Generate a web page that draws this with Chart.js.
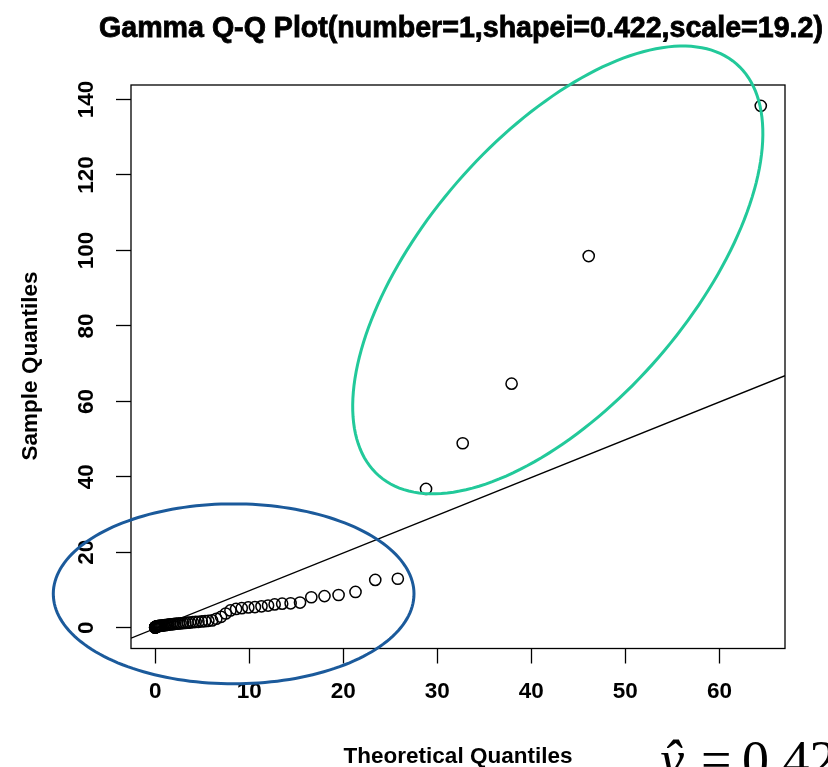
<!DOCTYPE html>
<html>
<head>
<meta charset="utf-8">
<title>Gamma Q-Q Plot</title>
<script src="https://cdn.jsdelivr.net/npm/chart.js@4.4.1/dist/chart.umd.min.js"></script>
<style>
  html, body { margin: 0; padding: 0; background: #fff; }
  #wrap { width: 828px; height: 767px; }
</style>
</head>
<body>
<div id="wrap"><canvas id="qqChart" width="828" height="767"></canvas></div>
<script>
// theoretical gamma quantiles vs sorted sample, smallest first
const theoretical = [
  0.0, 0.00002, 0.0001, 0.0004, 0.001, 0.003, 0.006, 0.012, 0.022, 0.037,
  0.058, 0.085, 0.12, 0.16, 0.21, 0.27, 0.34, 0.41, 0.49, 0.58,
  0.68, 0.78, 0.89, 1.01, 1.14, 1.28, 1.42, 1.58, 1.75, 1.92,
  2.1, 2.3, 2.5, 2.7, 2.95, 3.2, 3.45, 3.7, 4.0, 4.3,
  4.6, 4.95, 5.3, 5.65, 6.05, 6.5, 7.0, 7.5, 8.0, 8.6,
  9.2, 9.9, 10.6, 11.3, 12.0, 12.7, 13.5, 14.4, 15.4, 16.6,
  18.0, 19.5, 21.3, 23.4, 25.8, 28.8, 32.7, 37.9, 46.1, 64.4
];
const sample = [
  0.05, 0.08, 0.1, 0.12, 0.14, 0.16, 0.18, 0.2, 0.22, 0.25,
  0.28, 0.31, 0.34, 0.37, 0.4, 0.43, 0.46, 0.49, 0.52, 0.55,
  0.58, 0.62, 0.66, 0.7, 0.75, 0.8, 0.85, 0.9, 0.95, 1.0,
  1.05, 1.1, 1.15, 1.2, 1.25, 1.3, 1.35, 1.4, 1.5, 1.55,
  1.6, 1.7, 1.75, 1.85, 1.95, 2.4, 2.9, 3.8, 4.6, 5.0,
  5.2, 5.4, 5.5, 5.7, 5.9, 6.2, 6.4, 6.5, 6.7, 8.1,
  8.4, 8.7, 9.5, 12.7, 13.0, 36.8, 48.9, 64.7, 98.5, 138.3
];

const xTickValues = [0, 10, 20, 30, 40, 50, 60];
const yTickValues = [0, 20, 40, 60, 80, 100, 120, 140];

// reference line through the quartiles
const lineSlope = 1.0;
const lineIntercept = -0.16;

const titleText = "Gamma Q-Q Plot(number=1,shapei=0.422,scale=19.2)";
const xTitle = "Theoretical Quantiles";
const yTitle = "Sample Quantiles";
const noteText = "0.42";

// highlight rings, in data units: centre and two half-axis vectors
const tailRing = { cx: 42.81, cy: 94.83, ux: 19.0, uy: 54.6, vx: -10.71, vy: 23.2, color: "#22c99a" };
const bodyRing = { cx: 8.34, cy: 9.0, ux: 19.18, uy: 0, vx: 0, vy: 23.84, color: "#1b5a9b" };

// R style 4% padding around the data range
function padRange(vals) {
  const lo = Math.min(...vals);
  const hi = Math.max(...vals);
  const pad = (hi - lo) * 0.04;
  return [lo - pad, hi + pad];
}
const [xMin, xMax] = padRange(theoretical);
const [yMin, yMax] = padRange(sample);

const SANS = '"Liberation Sans", Arial, sans-serif';
const SERIF = '"Liberation Serif", "Times New Roman", serif';

function drawRing(ctx, chart, ring) {
  const sx = chart.scales.x;
  const sy = chart.scales.y;
  ctx.save();
  ctx.strokeStyle = ring.color;
  ctx.lineWidth = 3;
  ctx.beginPath();
  for (let i = 0; i <= 180; i++) {
    const t = (i / 180) * Math.PI * 2;
    const x = ring.cx + ring.ux * Math.cos(t) + ring.vx * Math.sin(t);
    const y = ring.cy + ring.uy * Math.cos(t) + ring.vy * Math.sin(t);
    const px = sx.getPixelForValue(x);
    const py = sy.getPixelForValue(y);
    if (i === 0) ctx.moveTo(px, py);
    else ctx.lineTo(px, py);
  }
  ctx.closePath();
  ctx.stroke();
  ctx.restore();
}

const decorations = {
  id: "decorations",
  afterDraw(chart) {
    const ctx = chart.ctx;
    const area = chart.chartArea;
    const sy = chart.scales.y;

    ctx.save();
    // plot box
    ctx.strokeStyle = "#000";
    ctx.lineWidth = 1.3;
    ctx.strokeRect(area.left, area.top, area.right - area.left, area.bottom - area.top);

    // y tick labels, rotated like base R
    ctx.fillStyle = "#000";
    ctx.font = "bold 22.5px " + SANS;
    ctx.textAlign = "center";
    ctx.textBaseline = "middle";
    sy.ticks.forEach((tick) => {
      const py = sy.getPixelForValue(tick.value);
      ctx.save();
      ctx.translate(87, py);
      ctx.rotate(-Math.PI / 2);
      ctx.fillText(String(tick.value), 0, 0);
      ctx.restore();
    });

    // title, fitted to the width it takes, a touch heavier
    ctx.font = "bold 26px " + SANS;
    const w = ctx.measureText(titleText).width;
    const size = 26 * 724 / w;
    ctx.font = "bold " + size.toFixed(2) + "px " + SANS;
    ctx.textBaseline = "alphabetic";
    ctx.lineWidth = 0.8;
    ctx.fillText(titleText, 461, 37);
    ctx.strokeText(titleText, 461, 37);

    // axis titles
    ctx.font = "bold 22.5px " + SANS;
    ctx.fillText(xTitle, 458, 763);
    ctx.save();
    ctx.translate(37, 366);
    ctx.rotate(-Math.PI / 2);
    ctx.fillText(yTitle, 0, 0);
    ctx.restore();

    // estimate note in the corner
    ctx.textAlign = "left";
    ctx.font = "italic 54px " + SERIF;
    ctx.fillText("\u0177", 660, 778);
    ctx.font = "54px " + SERIF;
    ctx.fillText("=", 701, 778);
    ctx.fillText(noteText, 742, 778);
    ctx.restore();

    drawRing(ctx, chart, bodyRing);
    drawRing(ctx, chart, tailRing);
  }
};

new Chart(document.getElementById("qqChart"), {
  type: "scatter",
  data: {
    datasets: [
      {
        label: "sample",
        data: theoretical.map((x, i) => ({ x: x, y: sample[i] })),
        pointRadius: 5.6,
        pointBorderWidth: 1.5,
        pointBorderColor: "#000",
        pointBackgroundColor: "rgba(0,0,0,0)",
        pointHoverRadius: 5.6,
        showLine: false,
        clip: false
      },
      {
        type: "line",
        label: "qqline",
        data: [
          { x: xMin, y: lineSlope * xMin + lineIntercept },
          { x: xMax, y: lineSlope * xMax + lineIntercept }
        ],
        borderColor: "#000",
        borderWidth: 1.4,
        pointRadius: 0,
        fill: false
      }
    ]
  },
  options: {
    responsive: false,
    animation: false,
    devicePixelRatio: 1,
    layout: { padding: { top: 85, right: 43, left: 0, bottom: 0 } },
    plugins: {
      legend: { display: false },
      tooltip: { enabled: false },
      title: { display: false }
    },
    scales: {
      x: {
        type: "linear",
        min: xMin,
        max: xMax,
        afterBuildTicks: (scale) => {
          scale.ticks = xTickValues.map((v) => ({ value: v }));
        },
        afterFit: (scale) => { scale.height = 118.5; },
        grid: {
          drawOnChartArea: false,
          drawTicks: true,
          tickLength: 15,
          tickColor: "#000",
          tickWidth: 1.3
        },
        border: { display: false },
        ticks: {
          color: "#000",
          font: { family: SANS, size: 22.5, weight: "bold" },
          padding: 15,
          maxRotation: 0,
          callback: (v) => String(v)
        }
      },
      y: {
        type: "linear",
        min: yMin,
        max: yMax,
        afterBuildTicks: (scale) => {
          scale.ticks = yTickValues.map((v) => ({ value: v }));
        },
        afterFit: (scale) => { scale.width = 131; },
        grid: {
          drawOnChartArea: false,
          drawTicks: true,
          tickLength: 15,
          tickColor: "#000",
          tickWidth: 1.3
        },
        border: { display: false },
        ticks: { display: false }
      }
    }
  },
  plugins: [decorations]
});
</script>
</body>
</html>
